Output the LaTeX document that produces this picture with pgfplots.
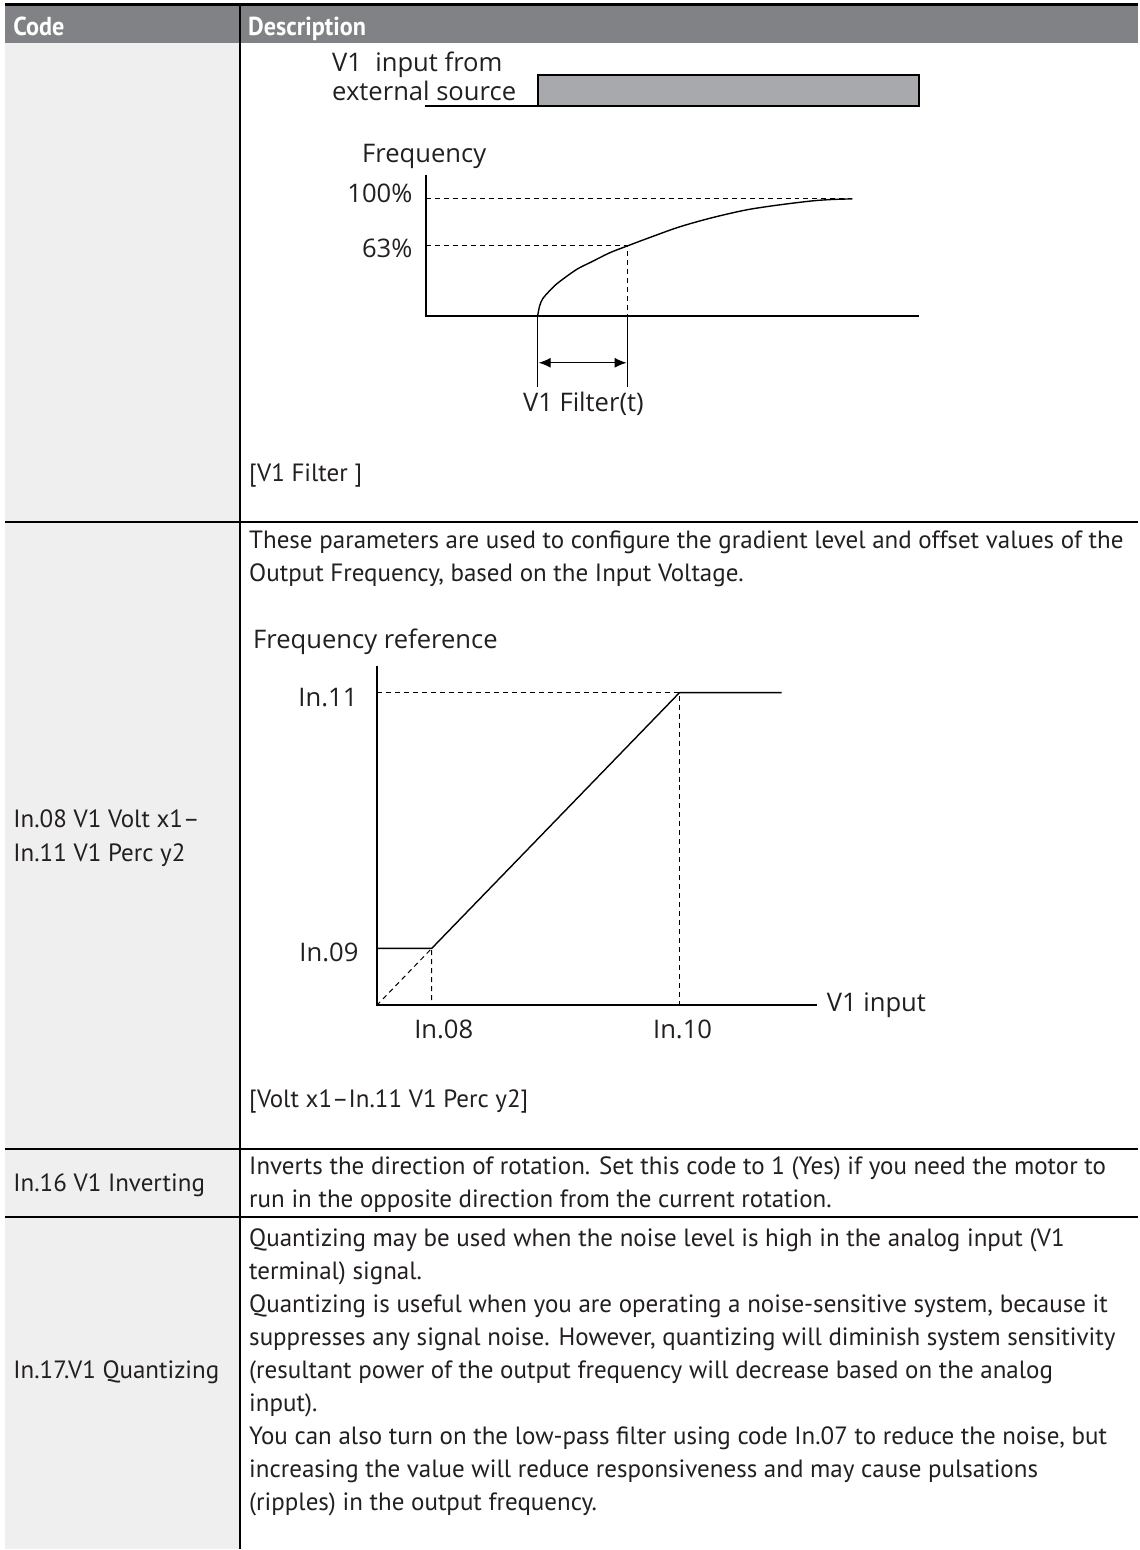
\documentclass[border=0pt]{standalone}
\usepackage{pgfplots}
\pgfplotsset{compat=1.18}
\usepackage{fontspec}
\setmainfont{Open Sans}
\newfontfamily\bodyfont{PT Sans}
\newfontfamily\headfont[FakeStretch=0.93]{PT Sans}
\usetikzlibrary{arrows.meta}
\definecolor{hdr}{HTML}{808285}
\definecolor{codebg}{HTML}{EFEFEF}
\definecolor{pulse}{HTML}{A7A9AC}
\definecolor{ink}{HTML}{231F20}
\newcommand{\T}[3]{\node[anchor=base west, inner sep=0pt, font=\bodyfont\fontsize{12.5}{15}\selectfont, text=ink] at (axis cs:#1,#2) {#3};}
\newcommand{\D}[4]{\node[anchor=#1, inner sep=0pt, font=\fontsize{12.8}{15}\selectfont, text=ink] at (axis cs:#2,#3) {#4};}
\begin{document}
\begin{tikzpicture}
\begin{axis}[scale only axis, width=569.5pt, height=775pt,
  xmin=0, xmax=1139, ymin=0, ymax=1550, y dir=reverse,
  axis lines=none, ticks=none, clip=false]
% page and table backgrounds
\fill[white] (axis cs:0,0) rectangle (axis cs:1139,1550);
\fill[codebg] (axis cs:5,43) rectangle (axis cs:240,1550);
\fill[hdr] (axis cs:5,5) rectangle (axis cs:1139,43);
\draw[black, line width=1.5pt] (axis cs:5,5) -- (axis cs:1139,5);
\draw[black, line width=1pt] (axis cs:240,5) -- (axis cs:240,1550);
\draw[black, line width=1pt] (axis cs:5,522) -- (axis cs:1139,522);
\draw[black, line width=1pt] (axis cs:5,1150) -- (axis cs:1139,1150);
\draw[black, line width=1pt] (axis cs:5,1218) -- (axis cs:1139,1218);
% header
\node[anchor=base west, inner sep=0pt, font=\headfont\bfseries\fontsize{13}{15}\selectfont, text=white] at (axis cs:13,36) {Code};
\node[anchor=base west, inner sep=0pt, font=\headfont\bfseries\fontsize{13}{15}\selectfont, text=white] at (axis cs:248,36) {Description};
% ---------- diagram 1: V1 filter ----------
\D{base west}{332}{72}{V1\ \ input from}
\D{base west}{332}{101}{external source}
\addplot[black, line width=1pt] coordinates {(425,106) (538,106)};
\addplot[draw=black, fill=pulse, line width=1pt] coordinates {(538,106) (538,75) (920,75) (920,106) (538,106)};
\D{base west}{362}{163}{Frequency}
\addplot[black, line width=1pt] coordinates {(426,175) (426,316) (920,316)};
\addplot[black, line width=0.5pt, dash pattern=on 2.5pt off 2pt] coordinates {(426,199) (853,199)};
\addplot[black, line width=0.5pt, dash pattern=on 2.5pt off 2pt] coordinates {(426,246) (628,246) (628,316)};
\addplot[black, line width=0.7pt, smooth, tension=0.5] coordinates {(538,316) (540,306) (543,299) (549,292) (556,285) (565,278) (578,269) (592,262) (610,253) (628,246) (652,237) (680,227) (712,218) (747,210) (780,205) (813,201) (833,199.6) (853,199)};
\D{base east}{413}{203}{100\%}
\D{base east}{413}{258}{63\%}
\addplot[black, line width=0.6pt] coordinates {(538,316) (538,387)};
\addplot[black, line width=0.6pt] coordinates {(628,316) (628,387)};
\addplot[black, line width=0.6pt, {Latex[length=6pt,width=5pt]}-{Latex[length=6pt,width=5pt]}] coordinates {(539,363) (627,363)};
\D{base west}{523}{412}{V1 Filter(t)}
\T{249}{482}{[V1 Filter ]}
% ---------- row 2 ----------
\T{249}{549}{These parameters are used to configure the gradient level and offset values of the}
\T{249}{582}{Output Frequency, based on the Input Voltage.}
\D{base west}{253}{649}{Frequency reference}
\addplot[black, line width=1pt] coordinates {(377,666) (377,1006) (818,1006)};
\addplot[black, line width=0.5pt, dash pattern=on 2.5pt off 2pt] coordinates {(377,693) (680,693) (680,1006)};
\addplot[black, line width=0.5pt, dash pattern=on 2.5pt off 2pt] coordinates {(377,1006) (432,949) (432,1006)};
\addplot[black, line width=0.7pt] coordinates {(377,949) (432,949) (680,693) (782,693)};
\D{base east}{358}{707}{In.11}
\D{base east}{359}{962}{In.09}
\D{base}{444}{1039}{In.08}
\D{base}{683}{1039}{In.10}
\D{base west}{827}{1012}{V1 input}
\T{249}{1108}{[Volt x1–In.11 V1 Perc y2]}
\T{13}{828}{In.08 V1 Volt x1–}
\T{13}{862}{In.11 V1 Perc y2}
% ---------- row 3 ----------
\T{13}{1192}{In.16 V1 Inverting}
\T{249}{1175}{Inverts the direction of rotation. Set this code to 1 (Yes) if you need the motor to}
\T{249}{1208}{run in the opposite direction from the current rotation.}
% ---------- row 4 ----------
\T{13}{1379}{In.17.V1 Quantizing}
\T{249}{1247}{Quantizing may be used when the noise level is high in the analog input (V1}
\T{249}{1280}{terminal) signal.}
\T{249}{1313}{Quantizing is useful when you are operating a noise-sensitive system, because it}
\T{249}{1346}{suppresses any signal noise. However, quantizing will diminish system sensitivity}
\T{249}{1379}{(resultant power of the output frequency will decrease based on the analog}
\T{249}{1412}{input).}
\T{249}{1445}{You can also turn on the low-pass filter using code In.07 to reduce the noise, but}
\T{249}{1478}{increasing the value will reduce responsiveness and may cause pulsations}
\T{249}{1511}{(ripples) in the output frequency.}
\end{axis}
\end{tikzpicture}
\end{document}
